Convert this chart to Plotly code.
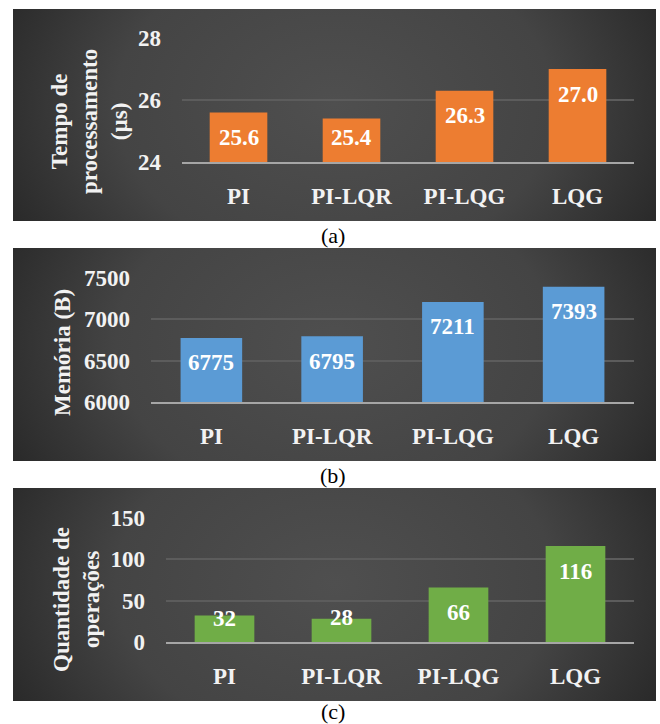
import base64
import plotly.graph_objects as go

# ---- data ---------------------------------------------------------------
categories = ["PI", "PI-LQR", "PI-LQG", "LQG"]

tempo_us = [25.6, 25.4, 26.3, 27.0]
memoria_b = [6775, 6795, 7211, 7393]
operacoes = [32, 28, 66, 116]

tempo_labels = ["25.6", "25.4", "26.3", "27.0"]
memoria_labels = ["6775", "6795", "7211", "7393"]
operacoes_labels = ["32", "28", "66", "116"]

tempo_ticks = [24, 26, 28]
memoria_ticks = [6000, 6500, 7000, 7500]
operacoes_ticks = [0, 50, 100, 150]

# ---- page geometry (pixels) ---------------------------------------------
W, H = 660, 724
SERIF = "Liberation Serif, Times New Roman, serif"
TXT = "#f2f2f2"


def px_x(x):
    return x / W


def px_y(y):
    return 1 - y / H


# chart frames and plot areas in page pixels
panels = [
    dict(frame=(13, 9, 656, 221), plot=(182, 38, 634, 162),
         values=tempo_us, labels=tempo_labels, ticks=tempo_ticks,
         rng=(24, 28), color="#ED7D31",
         title="Tempo de<br>processamento<br>(µs)", title_x=90, title_y=122,
         caption="(a)", cap_y=236),
    dict(frame=(13, 248, 656, 461), plot=(151, 278, 634, 402),
         values=memoria_b, labels=memoria_labels, ticks=memoria_ticks,
         rng=(6000, 7500), color="#5B9BD5",
         title="Memória (B)", title_x=62, title_y=352,
         caption="(b)", cap_y=475),
    dict(frame=(13, 488, 656, 701), plot=(166, 518, 634, 642),
         values=operacoes, labels=operacoes_labels, ticks=operacoes_ticks,
         rng=(0, 150), color="#70AD47",
         title="Quantidade de<br>operações", title_x=76, title_y=600,
         caption="(c)", cap_y=711),
]

# radial dark background used behind each chart
bg_svg = (
    '<svg xmlns="http://www.w3.org/2000/svg" width="643" height="212" '
    'preserveAspectRatio="none" viewBox="0 0 643 212">'
    '<defs><radialGradient id="g" cx="50%" cy="45%" r="62%" '
    'gradientTransform="translate(0.5,0.45) scale(1,2.2) translate(-0.5,-0.45)">'
    '<stop offset="0%" stop-color="#4f4f4f"/>'
    '<stop offset="55%" stop-color="#444444"/>'
    '<stop offset="100%" stop-color="#222222"/>'
    '</radialGradient></defs>'
    '<rect width="643" height="212" fill="url(#g)"/></svg>'
)
bg_src = "data:image/svg+xml;base64," + base64.b64encode(bg_svg.encode()).decode()

fig = go.Figure()
images, annotations = [], []

for i, p in enumerate(panels, start=1):
    xa = "x" if i == 1 else f"x{i}"
    ya = "y" if i == 1 else f"y{i}"
    x0, y0, x1, y1 = p["plot"]
    lo, hi = p["rng"]

    fig.add_trace(go.Bar(
        x=categories, y=[v - lo for v in p["values"]], base=lo,
        width=0.51, marker=dict(color=p["color"], line=dict(width=0)),
        xaxis=xa, yaxis=ya, showlegend=False, hoverinfo="skip",
    ))

    axis_x = dict(domain=[px_x(x0), px_x(x1)], anchor=ya, showgrid=False,
                  showline=True, linecolor="#a6a6a6", linewidth=2,
                  ticks="", ticklabelstandoff=12, automargin=False,
                  tickfont=dict(family=SERIF, size=23, color=TXT, weight="bold"))
    axis_y = dict(domain=[px_y(y1), px_y(y0)], anchor=xa, range=[lo, hi],
                  tickvals=p["ticks"], showgrid=True, gridcolor="#5c5c5c",
                  gridwidth=1.5, zeroline=False, showline=False, ticks="",
                  ticklabelstandoff=20, automargin=False,
                  tickfont=dict(family=SERIF, size=23, color=TXT, weight="bold"))
    suffix = "" if i == 1 else str(i)
    fig.update_layout(**{f"xaxis{suffix}": axis_x, f"yaxis{suffix}": axis_y})

    # value labels near the top of each bar, kept inside short bars
    px_per_unit = (y1 - y0) / (hi - lo)
    for cat, v, lab in zip(categories, p["values"], p["labels"]):
        h_px = (v - lo) * px_per_unit
        drop = min(25, h_px - 24)
        annotations.append(dict(
            x=cat, y=v, xref=xa, yref=ya, text=f"<b>{lab}</b>",
            showarrow=False, yanchor="middle", yshift=-drop,
            font=dict(family=SERIF, size=23, color="#ffffff")))

    # vertical axis title
    annotations.append(dict(
        x=px_x(p["title_x"]), y=px_y(p["title_y"]), xref="paper", yref="paper",
        text=f"<b>{p['title']}</b>", textangle=-90, showarrow=False,
        xanchor="center", yanchor="middle",
        font=dict(family=SERIF, size=23, color=TXT)))

    # caption under the chart
    annotations.append(dict(
        x=px_x(333), y=px_y(p["cap_y"]), xref="paper", yref="paper",
        text=p["caption"], showarrow=False, xanchor="center", yanchor="middle",
        font=dict(family=SERIF, size=22, color="#000000")))

    fx0, fy0, fx1, fy1 = p["frame"]
    images.append(dict(
        source=bg_src, xref="paper", yref="paper",
        x=px_x(fx0), y=px_y(fy0), sizex=(fx1 - fx0) / W, sizey=(fy1 - fy0) / H,
        xanchor="left", yanchor="top", sizing="stretch", layer="below"))

fig.update_layout(
    width=W, height=H, margin=dict(l=0, r=0, t=0, b=0, autoexpand=False),
    paper_bgcolor="#ffffff", plot_bgcolor="rgba(0,0,0,0)",
    images=images, annotations=annotations, showlegend=False,
)

fig.write_html("out.html")
